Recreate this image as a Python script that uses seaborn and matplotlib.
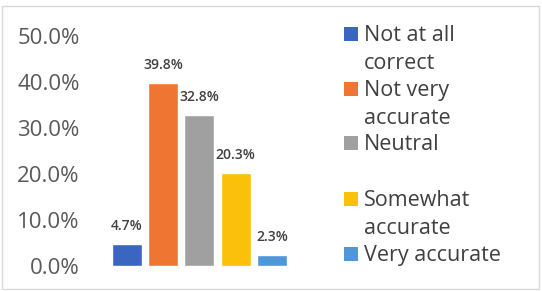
import matplotlib
matplotlib.use("Agg")
import matplotlib.pyplot as plt
import matplotlib.patches as mpatches
import seaborn as sns
import pandas as pd

categories = ["Not at all correct", "Not very accurate", "Neutral",
              "Somewhat accurate", "Very accurate"]
legend_labels = ["Not at all\ncorrect", "Not very\naccurate", "Neutral",
                 "Somewhat\naccurate", "Very accurate"]
values = [0.047, 0.398, 0.328, 0.203, 0.023]
colors = ["#3A66C2", "#EE7632", "#A0A0A0", "#FAC00A", "#4F96DA"]
yticks = [0.0, 0.1, 0.2, 0.3, 0.4, 0.5]

sns.set_theme(style="white")
plt.rcParams["font.family"] = ["Open Sans", "DejaVu Sans"]

df = pd.DataFrame({"cat": categories, "val": values})

fig = plt.figure(figsize=(5.42, 2.91), dpi=100)
ax = fig.add_axes([0.201, 0.0859, 0.334, 0.790])
sns.barplot(data=df, x="cat", y="val", hue="cat", palette=colors,
            order=categories, hue_order=categories, dodge=False,
            width=0.83, legend=False, ax=ax, saturation=1)

for c in ax.containers:
    ax.bar_label(c, labels=[f"{v*100:.1f}%" for v in c.datavalues],
                 padding=8, fontsize=10, fontweight="semibold", color="#404040")

ax.set_ylim(0, 0.5)
ax.set_xlim(-0.5, 4.5)
ax.set_yticks(yticks)
ax.set_yticklabels([f"{t*100:.1f}%" for t in yticks], fontsize=16, color="#595959")
ax.set_xticks([])
ax.set_xlabel("")
ax.set_ylabel("")
ax.tick_params(axis="y", length=0, pad=21)
for s in ax.spines.values():
    s.set_visible(False)

# manual legend (squares aligned with first line)
W, H = 542, 291
first_baselines = [41, 96, 150, 206, 261]
line_pitch = 28
for lab, col, yb in zip(legend_labels, colors, first_baselines):
    fig.patches.append(mpatches.Rectangle((344 / W, 1 - yb / H), 14 / W, 14 / H,
                                          transform=fig.transFigure, facecolor=col,
                                          edgecolor="none"))
    for i, line in enumerate(lab.split("\n")):
        fig.text(364 / W, 1 - (yb + i * line_pitch) / H, line, fontsize=15.5,
                 color="#404040", va="baseline", ha="left")

# outer border
fig.patches.append(mpatches.Rectangle((2 / W, 2 / H), 537 / W, 283 / H,
                                      transform=fig.transFigure, facecolor="none",
                                      edgecolor="#D9D9D9", linewidth=1))

fig.savefig("out.png", dpi=100)
